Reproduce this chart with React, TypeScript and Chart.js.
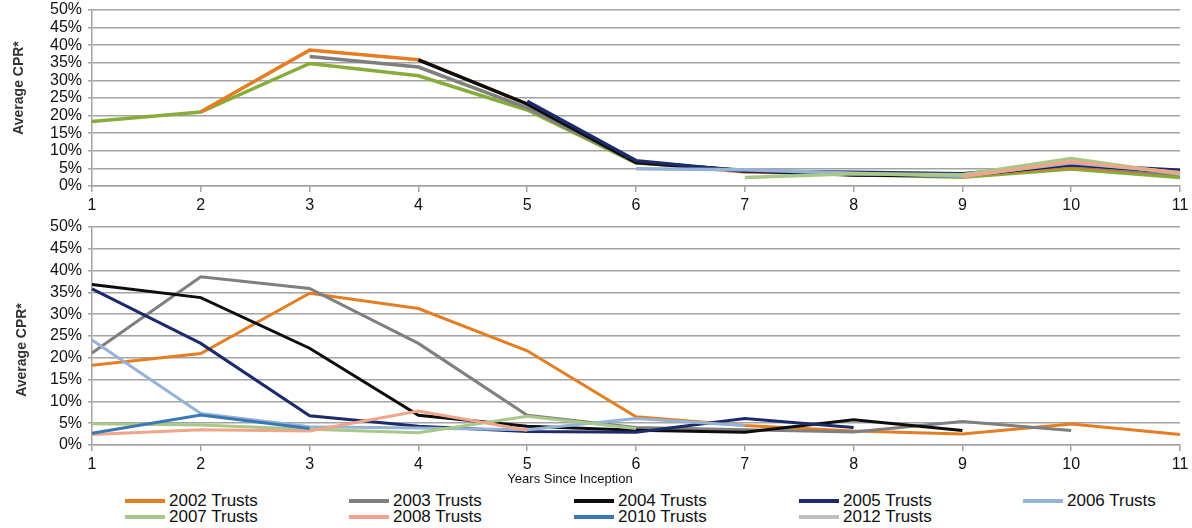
import React, { useEffect, useRef } from 'react';
import { Chart, registerables } from 'chart.js';

Chart.register(...registerables);

// Years since inception (x-axis categories)
const ageLabels = ['1', '2', '3', '4', '5', '6', '7', '8', '9', '10', '11'];

// Average CPR (%) by year since inception, one array per trust vintage
const trusts2002 = [18.3, 21.0, 34.8, 31.3, 21.6, 6.5, 4.5, 3.2, 2.5, 4.8, 2.4];
const trusts2003 = [21.1, 38.6, 35.9, 23.3, 6.8, 4.0, 3.5, 3.0, 5.4, 3.3];
const trusts2004 = [36.8, 33.8, 22.2, 6.8, 4.3, 3.4, 2.9, 5.8, 3.3];
const trusts2005 = [35.8, 23.3, 6.7, 4.3, 3.1, 2.9, 6.1, 4.0];
const trusts2006 = [24.1, 7.2, 4.2, 3.9, 3.5, 6.1, 4.5];
const trusts2007 = [4.9, 4.6, 3.6, 2.8, 6.6, 3.8];
const trusts2008 = [2.4, 3.5, 3.2, 7.8, 3.4];
const trusts2010 = [2.7, 6.9, 3.8];
const trusts2012 = [3.0];

const vintageYears = [2002, 2003, 2004, 2005, 2006, 2007, 2008, 2010, 2012];
const vintageNames = vintageYears.map((y) => `${y} Trusts`);
const vintageSeries = [
  trusts2002, trusts2003, trusts2004, trusts2005, trusts2006,
  trusts2007, trusts2008, trusts2010, trusts2012,
];

// Colours used by the lower chart and its legend
const vintageColors = [
  '#E57D22', '#7F7F7F', '#0D0D0D', '#1C2B6B', '#95B3D7',
  '#A8C888', '#F0A58A', '#3A78B5', '#BFBFBF',
];
// Colours used by the upper (calendar-aligned) chart
const calendarColors = [
  '#86AD3A', '#E57D22', '#7F7F7F', '#0D0D0D', '#1C2B6B',
  '#95B3D7', '#A8C888', '#F0A58A', '#3A78B5',
];

// y-axis range and step (percent)
const yMin = 0;
const yMax = 50;
const yStep = 5;

const FONT = "'Liberation Sans', Arial, Helvetica, sans-serif";
const GRID = '#A3A3A3';
const WIDTH = 1192;

type PanelSpec = {
  height: number;
  plotTop: number;
  plotBottom: number;
  lineWidth: number;
  datasets: any[];
};

function buildConfig(spec: PanelSpec): any {
  return {
    type: 'line',
    data: { labels: ageLabels, datasets: spec.datasets },
    options: {
      responsive: false,
      animation: false,
      devicePixelRatio: 1,
      layout: { padding: { left: 0, right: 12, top: spec.plotTop, bottom: 0 } },
      plugins: { legend: { display: false }, tooltip: { enabled: false } },
      elements: { point: { radius: 0 }, line: { tension: 0 } },
      scales: {
        x: {
          type: 'category',
          offset: false,
          afterFit: (scale: any) => {
            scale.height = spec.height - spec.plotBottom;
            scale.paddingLeft = 0;
            scale.paddingRight = 0;
          },
          grid: {
            drawOnChartArea: false,
            drawTicks: true,
            tickLength: 6,
            color: GRID,
            lineWidth: 1.5,
          },
          border: { display: true, color: GRID, width: 1.5 },
          ticks: {
            padding: 4,
            color: '#111',
            font: { family: FONT, size: 16 },
            maxRotation: 0,
            autoSkip: false,
          },
        },
        y: {
          min: yMin,
          max: yMax,
          afterFit: (scale: any) => {
            scale.width = 92;
            scale.paddingTop = 0;
            scale.paddingBottom = 0;
          },
          grid: { color: GRID, lineWidth: 1.5, drawTicks: true, tickLength: 4 },
          border: { display: true, color: GRID, width: 1.5 },
          ticks: {
            stepSize: yStep,
            autoSkip: false,
            padding: 6,
            color: '#111',
            font: { family: FONT, size: 16 },
            callback: (v: any) => `${v}%`,
          },
        },
      },
    },
  };
}

function LinePanel({ spec, top }: { spec: PanelSpec; top: number }) {
  const ref = useRef<HTMLCanvasElement | null>(null);
  useEffect(() => {
    if (!ref.current) return;
    const chart = new Chart(ref.current, buildConfig(spec));
    return () => chart.destroy();
  }, [spec]);
  return (
    <canvas
      ref={ref}
      width={WIDTH}
      height={spec.height}
      style={{ position: 'absolute', left: 0, top, width: WIDTH, height: spec.height }}
    />
  );
}

// Upper chart: each vintage shifted to its calendar start
const calendarDatasets = vintageSeries.map((values, i) => {
  const shift = vintageYears[i] - vintageYears[0];
  return {
    label: vintageNames[i],
    data: [...Array(shift).fill(null), ...values].slice(0, ageLabels.length),
    borderColor: calendarColors[i],
    borderWidth: 3.5,
    pointRadius: 0,
    fill: false,
    order: -i,
  };
});

// Lower chart: each vintage from its own inception
const ageDatasets = vintageSeries.map((values, i) => ({
  label: vintageNames[i],
  data: values,
  borderColor: vintageColors[i],
  borderWidth: 3,
  pointRadius: 0,
  fill: false,
  order: -i,
}));

const topSpec: PanelSpec = { height: 218, plotTop: 10, plotBottom: 186, lineWidth: 3.5, datasets: calendarDatasets };
const bottomSpec: PanelSpec = { height: 262, plotTop: 9, plotBottom: 227, lineWidth: 3, datasets: ageDatasets };

const legendRows = [
  [0, 1, 2, 3, 4],
  [5, 6, 7, 8],
];
const legendColumns = [125, 349, 574, 799, 1023];
const legendRowCenters = [501, 517];

function YTitle({ x, y }: { x: number; y: number }) {
  return (
    <div
      style={{
        position: 'absolute',
        left: x,
        top: y,
        transform: 'translate(-50%, -50%) rotate(-90deg)',
        whiteSpace: 'nowrap',
        fontFamily: FONT,
        fontWeight: 'bold',
        fontSize: 14,
        color: '#333',
      }}
    >
      Average CPR*
    </div>
  );
}

export default function App() {
  return (
    <div
      style={{
        position: 'absolute',
        left: 0,
        top: 0,
        width: WIDTH,
        height: 528,
        background: '#fff',
        overflow: 'hidden',
      }}
    >
      <LinePanel spec={topSpec} top={0} />
      <LinePanel spec={bottomSpec} top={218} />
      <YTitle x={18} y={88} />
      <YTitle x={21} y={350} />
      <div
        style={{
          position: 'absolute',
          left: 570,
          top: 478,
          transform: 'translate(-50%, -50%)',
          whiteSpace: 'nowrap',
          fontFamily: FONT,
          fontSize: 13,
          color: '#111',
        }}
      >
        Years Since Inception
      </div>
      {legendRows.map((row, r) =>
        row.map((idx, c) => (
          <div key={`${r}-${c}`}>
            <div
              style={{
                position: 'absolute',
                left: legendColumns[c],
                top: legendRowCenters[r] - 2,
                width: 40,
                height: 4,
                background: vintageColors[idx],
              }}
            />
            <div
              style={{
                position: 'absolute',
                left: legendColumns[c] + 44,
                top: legendRowCenters[r] - 10,
                height: 20,
                lineHeight: '20px',
                whiteSpace: 'nowrap',
                fontFamily: FONT,
                fontSize: 17,
                color: '#111',
              }}
            >
              {vintageNames[idx]}
            </div>
          </div>
        ))
      )}
    </div>
  );
}
